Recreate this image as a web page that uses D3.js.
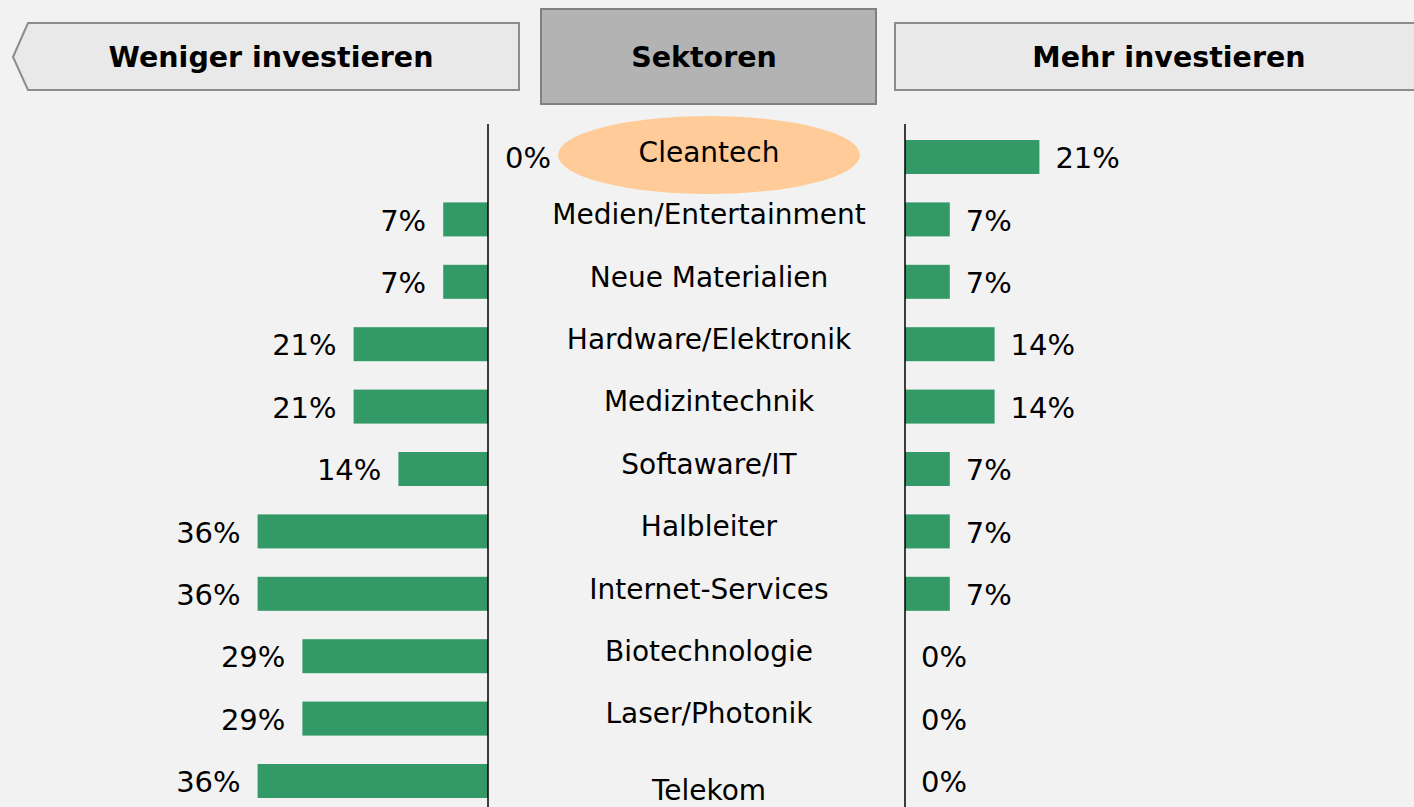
<!DOCTYPE html>
<html>
<head>
<meta charset="utf-8">
<script src="https://cdn.jsdelivr.net/npm/d3@7"></script>
<style>
  html, body { margin: 0; padding: 0; background: #f2f2f2; }
  svg { display: block; font-family: "DejaVu Sans", sans-serif; }
</style>
</head>
<body>
<svg id="chart" width="1414" height="807"></svg>
<script>
// sectors, top to bottom
const sectors = ["Cleantech", "Medien/Entertainment", "Neue Materialien", "Hardware/Elektronik",
  "Medizintechnik", "Softaware/IT", "Halbleiter", "Internet-Services", "Biotechnologie",
  "Laser/Photonik", "Telekom"];
// share of answers (%)
const lessInvest = [0, 7, 7, 21, 21, 14, 36, 36, 29, 29, 36];
const moreInvest = [21, 7, 7, 14, 14, 7, 7, 7, 0, 0, 0];
const headers = ["Weniger investieren", "Sektoren", "Mehr investieren"];
const highlight = "Cleantech";

const green = "#339966";
const svg = d3.select("#chart");
const W = 1414, H = 807;

svg.append("rect").attr("width", W).attr("height", H).attr("fill", "#f2f2f2");

// header boxes
svg.append("path")
  .attr("d", "M13,57 L28,23 L519,23 L519,90 L28,90 Z")
  .attr("fill", "#e9e9e9").attr("stroke", "#8c8c8c").attr("stroke-width", 2);
svg.append("rect")
  .attr("x", 541).attr("y", 9).attr("width", 335).attr("height", 95)
  .attr("fill", "#b3b3b3").attr("stroke", "#808080").attr("stroke-width", 2);
svg.append("rect")
  .attr("x", 895).attr("y", 23).attr("width", 560).attr("height", 67)
  .attr("fill", "#e9e9e9").attr("stroke", "#8c8c8c").attr("stroke-width", 2);

const headerX = [271, 704, 1169];
svg.selectAll("text.header")
  .data(headers)
  .join("text")
  .attr("class", "header")
  .attr("x", (d, i) => headerX[i])
  .attr("y", 57)
  .attr("dy", "0.35em")
  .attr("text-anchor", "middle")
  .attr("font-weight", "bold")
  .attr("font-size", 28.5)
  .attr("fill", "#000")
  .text(d => d);

// scales
const axisL = 488, axisR = 905;
const pxPer100 = 640;
const xLeft = d3.scaleLinear().domain([0, 100]).range([axisL, axisL - pxPer100]);
const xRight = d3.scaleLinear().domain([0, 100]).range([axisR, axisR + pxPer100]);
const y = d3.scaleBand()
  .domain(sectors)
  .range([125.8, 125.8 + 62.4 * sectors.length])
  .paddingInner(0.455)
  .paddingOuter(0.2275);

const rows = sectors.map((s, i) => ({ sector: s, less: lessInvest[i], more: moreInvest[i] }));

// highlight ellipse
svg.append("ellipse")
  .attr("cx", 709)
  .attr("cy", y(highlight) + y.bandwidth() / 2 - 2)
  .attr("rx", 151).attr("ry", 39)
  .attr("fill", "#ffcc99");

// left bars
svg.selectAll("rect.less")
  .data(rows)
  .join("rect")
  .attr("class", "less")
  .attr("x", d => xLeft(d.less))
  .attr("y", d => y(d.sector))
  .attr("width", d => xLeft(0) - xLeft(d.less))
  .attr("height", y.bandwidth())
  .attr("fill", green);

// right bars
svg.selectAll("rect.more")
  .data(rows)
  .join("rect")
  .attr("class", "more")
  .attr("x", xRight(0))
  .attr("y", d => y(d.sector))
  .attr("width", d => xRight(d.more) - xRight(0))
  .attr("height", y.bandwidth())
  .attr("fill", green);

// value labels
const valueFont = 29;
svg.selectAll("text.lessLabel")
  .data(rows)
  .join("text")
  .attr("class", "lessLabel")
  .attr("x", d => d.less === 0 ? axisL + 17 : xLeft(d.less) - 17)
  .attr("y", d => y(d.sector) + y.bandwidth() / 2 + 1)
  .attr("dy", "0.35em")
  .attr("text-anchor", d => d.less === 0 ? "start" : "end")
  .attr("font-size", valueFont)
  .text(d => d.less + "%");

svg.selectAll("text.moreLabel")
  .data(rows)
  .join("text")
  .attr("class", "moreLabel")
  .attr("x", d => xRight(d.more) + 16)
  .attr("y", d => y(d.sector) + y.bandwidth() / 2 + 1)
  .attr("dy", "0.35em")
  .attr("font-size", valueFont)
  .text(d => d.more + "%");

// sector names (text box of the last one sits lower)
svg.selectAll("text.sector")
  .data(rows)
  .join("text")
  .attr("class", "sector")
  .attr("x", 709)
  .attr("y", (d, i) => y(d.sector) + y.bandwidth() / 2 - 5 + (i === rows.length - 1 ? 14 : 0))
  .attr("dy", "0.35em")
  .attr("text-anchor", "middle")
  .attr("font-size", 28)
  .text(d => d.sector);

// axis lines
[axisL, axisR].forEach(x => {
  svg.append("line")
    .attr("x1", x).attr("x2", x)
    .attr("y1", 124).attr("y2", H)
    .attr("stroke", "#000").attr("stroke-width", 1.5);
});
</script>
</body>
</html>
